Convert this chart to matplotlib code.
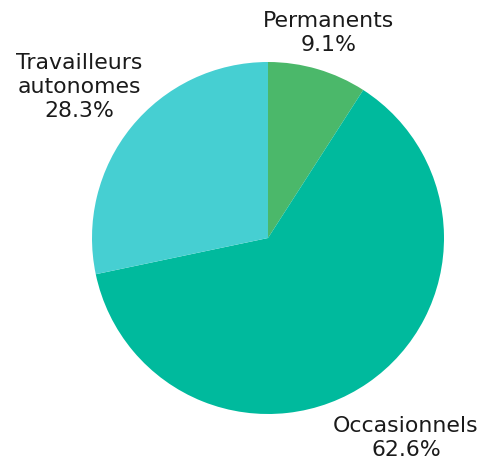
import matplotlib
matplotlib.use("Agg")
import matplotlib.pyplot as plt

labels = ["Permanents", "Occasionnels", "Travailleurs\nautonomes"]
values = [9.1, 62.6, 28.3]
colors = ["#4BB86A", "#00BA9D", "#46CFD2"]
label_pos = [(328.5, 432), (406, 27), (79, 378)]

plt.rcParams['font.family'] = ['DejaVu Sans']
fig = plt.figure(figsize=(4.85, 4.65), dpi=100)
ax = fig.add_axes([0, 0, 1, 1])

wedges, _ = ax.pie(values, colors=colors, startangle=90, counterclock=False,
                   center=(268, 227), radius=176, frame=True,
                   wedgeprops=dict(linewidth=0))
ax.set_xlim(0, 485)
ax.set_ylim(0, 465)
ax.set_aspect('equal')
ax.axis('off')
for lab, v, (x, y) in zip(labels, values, label_pos):
    ax.text(x, y, f"{lab}\n{v:.1f}%", ha='center', va='center', fontsize=15.8,
            color='#1a1a1a', linespacing=1.22)

fig.savefig("out.png", dpi=100)
